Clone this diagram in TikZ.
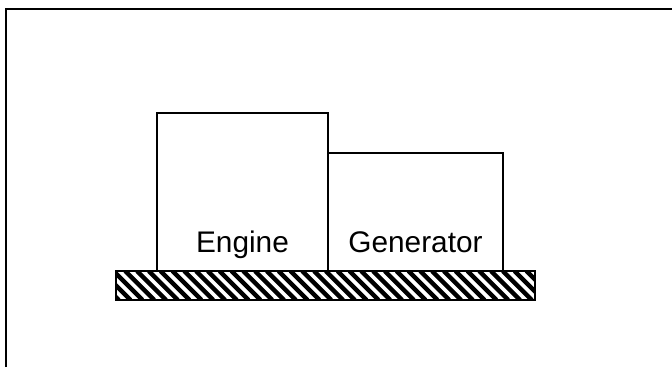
\documentclass[tikz,border=0pt]{standalone}
\usepackage{fontspec}
\setmainfont{Liberation Sans}
\usepackage{tikz}
\usetikzlibrary{shapes,arrows}
\tikzstyle{machine} = [rectangle, draw, line width=2pt, fill=white,
    inner sep=0pt, outer sep=0pt, anchor=south west]
\tikzstyle{caption} = [anchor=base, inner sep=0pt,
    font=\fontsize{29.8}{33}\selectfont]
\tikzstyle{frame} = [draw, line width=2pt]

\begin{document}
\begin{tikzpicture}[x=1pt, y=1pt]
 \useasboundingbox (0,0) rectangle (672,367);
 % Frame
   \path [frame] (6,0) -- (6,358) -- (672,358);

 % Base plate
   \coordinate (baseSW) at (116,67);
   \coordinate (baseNE) at (535,96);
   \begin{scope}
     \clip (baseSW) rectangle (baseNE);
     \foreach \x in {78,89.8,...,545}
       \draw [line width=4.4pt] (\x,96) -- ++(29,-29);
   \end{scope}
   \draw [line width=1.8pt] (baseSW) rectangle (baseNE);

 % Place nodes
   \node [machine, minimum width=171pt, minimum height=158pt] (engine) at (157,96) {};
   \node [machine, minimum width=175pt, minimum height=118pt] (generator) at (engine.south east) {};
   \node [caption] (engineText) at ([yshift=18pt]engine.south) {Engine};
   \node [caption] (generatorText) at ([yshift=18pt]generator.south) {Generator};
\end{tikzpicture}
\end{document}
